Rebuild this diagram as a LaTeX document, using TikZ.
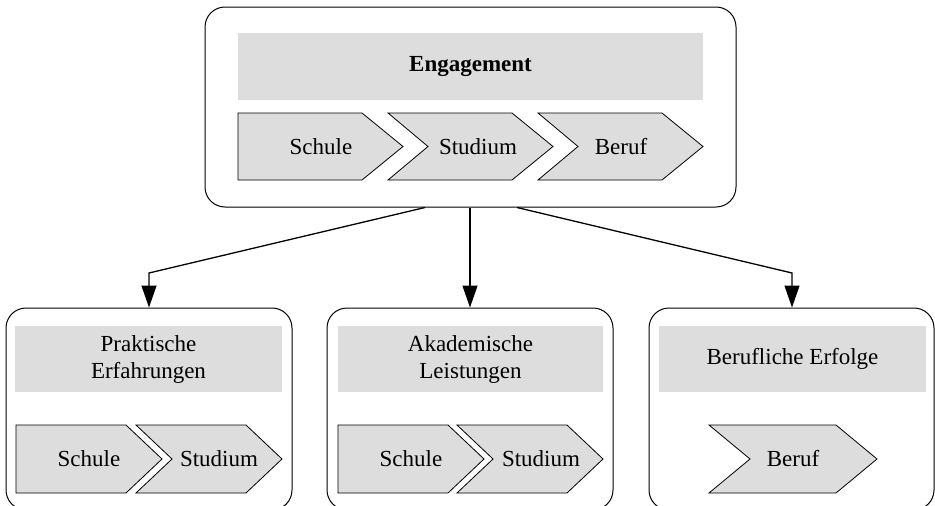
\documentclass[tikz,border=0pt]{standalone}
\usepackage{fontspec}
\setmainfont{Liberation Serif}
\usetikzlibrary{arrows.meta}

\definecolor{panelgray}{RGB}{221,221,221}

% chevron: #1 left x, #2 top y, #3 total width, #4 point depth, #5 height, #6 notch depth (0 = flat back)
\newcommand{\chevshape}[6]{%
  \draw[chevline] (#1,#2) -- ++({#3-#4},0) -- ++(#4,{#5/2}) -- ++({-#4},{#5/2})
    -- ++({-(#3-#4)},0) -- ++(#6,{-#5/2}) -- cycle;}

\begin{document}
\begin{tikzpicture}[x=1pt,y=-1pt,
  every node/.style={font=\fontsize{23}{27}\selectfont, inner sep=0pt, align=center},
  frame/.style={draw=black, line width=1pt, rounded corners=20pt, fill=white},
  titlebar/.style={fill=panelgray, draw=none},
  chevline/.style={draw=black, line width=0.8pt, fill=panelgray, line join=miter},
  arr/.style={draw=black, line width=1.3pt, -{Triangle[length=22pt,width=15pt]}}
]
\useasboundingbox (0,0) rectangle (935,506);

% outer frames
\node[frame, minimum width=531pt, minimum height=200pt] (eng) at (470.5,107) {};
\node[frame, minimum width=286pt, minimum height=202pt] (prak) at (149,409) {};
\node[frame, minimum width=286pt, minimum height=202pt] (akad) at (470,409) {};
\node[frame, minimum width=285pt, minimum height=202pt] (beruf) at (791.5,409) {};

% title bars
\node[titlebar, minimum width=465pt, minimum height=67pt] (engT) at (470.5,66.5) {\textbf{Engagement}};
\node[titlebar, minimum width=267pt, minimum height=66pt] (prakT) at (148.5,359) {Praktische\\Erfahrungen};
\node[titlebar, minimum width=265pt, minimum height=66pt] (akadT) at (470.5,359) {Akademische\\Leistungen};
\node[titlebar, minimum width=267pt, minimum height=66pt] (berufT) at (792.5,359) {Berufliche Erfolge};

% chevrons in the top frame
\chevshape{238}{113}{165}{41}{67}{0}
\chevshape{388}{113}{165}{41}{67}{40}
\chevshape{538}{113}{165}{41}{67}{40}
\node (e1) at (321,147) {Schule};
\node (e2) at (478,147) {Studium};
\node (e3) at (621,147) {Beruf};

% chevrons in the lower frames
\chevshape{16}{425}{146}{36}{68}{0}
\chevshape{136}{425}{146}{36}{68}{36}
\node (p1) at (89,459) {Schule};
\node (p2) at (219,459) {Studium};

\chevshape{338}{425}{146}{36}{68}{0}
\chevshape{457}{425}{146}{36}{68}{36}
\node (a1) at (411,459) {Schule};
\node (a2) at (541,459) {Studium};

\chevshape{709}{425}{168}{41}{68}{41}
\node (b1) at (793,459) {Beruf};

% connectors
\coordinate (sL) at ([xshift=-45.5pt]eng.south);
\coordinate (sR) at ([xshift=46.5pt]eng.south);
\coordinate (kL) at (149,273);
\coordinate (kR) at (792,273);
\draw[arr] (sL) -- (kL) -- (kL |- prak.north);
\draw[arr] (eng.south -| akad.north) -- (akad.north);
\draw[arr] (sR) -- (kR) -- (kR |- beruf.north);
\end{tikzpicture}
\end{document}
